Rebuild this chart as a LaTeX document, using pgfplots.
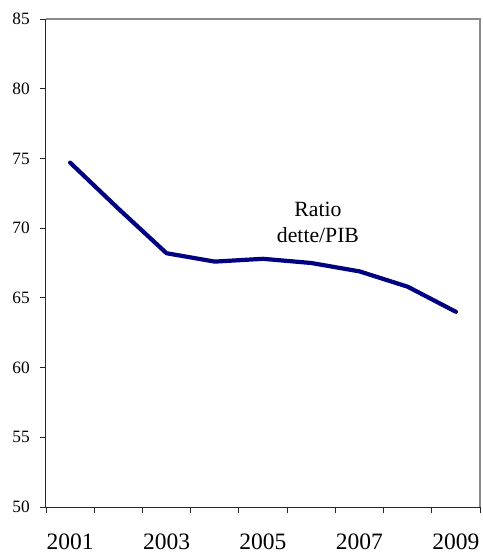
\documentclass[border=0pt]{standalone}
\usepackage{fontspec}
\setmainfont{Liberation Serif}
\usepackage{pgfplots}
\pgfplotsset{compat=1.18}

\definecolor{ratioline}{HTML}{000080}
\definecolor{framegray}{HTML}{8A8A8A}

\begin{document}
\begin{tikzpicture}
\begin{axis}[
  scale only axis,
  width=434pt, height=488pt,
  xmin=-0.5, xmax=8.5,
  ymin=50, ymax=85,
  axis lines*=left,
  axis line style={-, line width=1pt, black!85},
  xtick={0,2,4,6,8},
  xticklabels={2001,2003,2005,2007,2009},
  major x tick style={draw=none},
  minor xtick={-0.5,0.5,1.5,2.5,3.5,4.5,5.5,6.5,7.5,8.5},
  minor tick length=6pt,
  minor x tick style={black!85, line width=0.9pt},
  ytick={50,55,...,85},
  major tick length=6pt,
  tick align=outside,
  ytick style={black!85, line width=0.9pt},
  /pgf/number format/assume math mode=true,
  /pgf/number format/1000 sep={},
  yticklabel style={font=\fontsize{17.3}{20}\selectfont, anchor=east, inner sep=0pt, xshift=-10pt},
  xticklabel style={font=\fontsize{23.5}{27}\selectfont, anchor=north, inner sep=0pt, yshift=-21pt},
  clip=false,
]
\addplot[color=ratioline, line width=4.2pt, line join=round, line cap=round] coordinates {
  (0,74.7) (1,71.4) (2,68.2) (3,67.6) (4,67.8) (5,67.5) (6,66.9) (7,65.8) (8,64.0)
};
\draw[framegray, line width=1.3pt] (rel axis cs:0,1) -- (rel axis cs:1,1) -- (rel axis cs:1,0);
\node[anchor=base, inner sep=0pt, font=\fontsize{21.7}{26}\selectfont] at (axis cs:5.14,70.87) {Ratio};
\node[anchor=base, inner sep=0pt, font=\fontsize{21.7}{26}\selectfont] at (axis cs:5.14,69.0) {dette/PIB};
\end{axis}
\path ([xshift=-46pt,yshift=-47pt]current axis.south west) rectangle ([xshift=3pt,yshift=19pt]current axis.north east);
\end{tikzpicture}
\end{document}
